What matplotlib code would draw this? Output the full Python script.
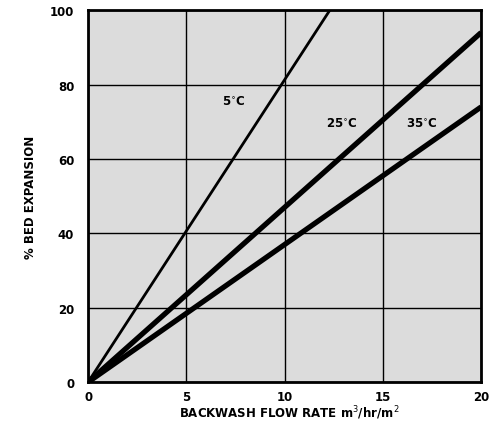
import numpy as np
import matplotlib.pyplot as plt

# flow rate (m3/hr/m2) and bed expansion (%)
flow_5c = [0, 12.3]
exp_5c = [0, 100]
flow_25c = [0, 20]
exp_25c = [0, 94]
flow_35c = [0, 20]
exp_35c = [0, 74]

x_ticks = [0, 5, 10, 15, 20]
y_ticks = [0, 20, 40, 60, 80, 100]

fig = plt.figure(figsize=(4.92, 4.31), dpi=100)
ax = fig.add_axes([0.179, 0.111, 0.799, 0.863])
ax.set_facecolor('#dcdcdc')

ax.plot(flow_5c, exp_5c, color='black', lw=2.0, solid_capstyle='butt')
ax.plot(flow_25c, exp_25c, color='black', lw=3.8, solid_capstyle='butt')
ax.plot(flow_35c, exp_35c, color='black', lw=3.8, solid_capstyle='butt')

ax.set_xlim(0, 20)
ax.set_ylim(0, 100)
ax.set_xticks(x_ticks)
ax.set_yticks(y_ticks)
ax.grid(True, color='black', lw=1.0)
ax.set_axisbelow(True)
ax.tick_params(length=0, labelsize=8.5)
ax.tick_params(axis='x', pad=6)
ax.tick_params(axis='y', pad=10)
for lab in ax.get_xticklabels() + ax.get_yticklabels():
    lab.set_fontweight('bold')
for sp in ax.spines.values():
    sp.set_linewidth(2)

ax.text(7.4, 75.5, '5$^{\\circ}$C', fontsize=8.5, fontweight='bold', ha='center', va='center')
ax.text(12.9, 69.5, '25$^{\\circ}$C', fontsize=8.5, fontweight='bold', ha='center', va='center')
ax.text(17.0, 69.5, '35$^{\\circ}$C', fontsize=8.5, fontweight='bold', ha='center', va='center')

fig.text(289 / 492, 1 - 413 / 431, 'BACKWASH FLOW RATE m$^3$/hr/m$^2$',
         fontsize=8.5, fontweight='bold', ha='center', va='center')
fig.text(30 / 492, 1 - 197 / 431, '% BED EXPANSION', rotation=90,
         fontsize=8.5, fontweight='bold', ha='center', va='center')

fig.savefig('out.png', dpi=100)
